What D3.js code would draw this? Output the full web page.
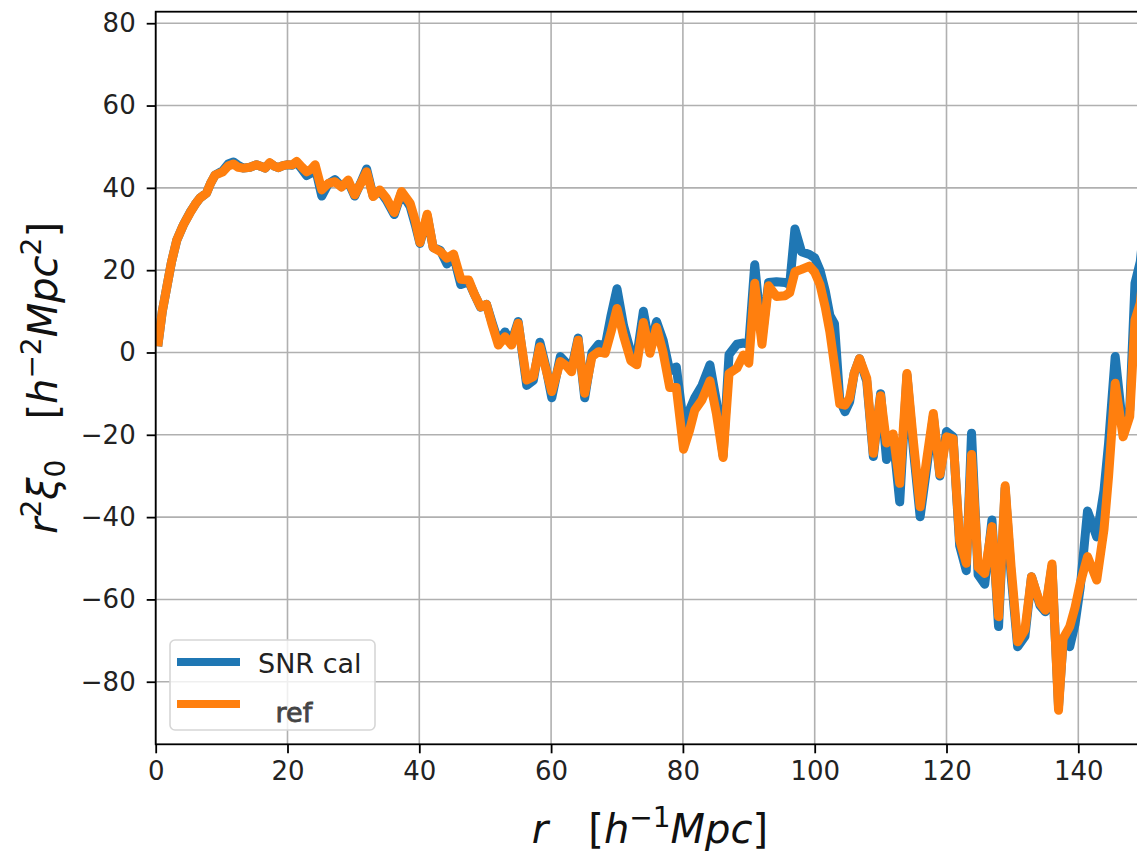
<!DOCTYPE html>
<html>
<head>
<meta charset="utf-8">
<script src="https://cdn.jsdelivr.net/npm/d3@7"></script>
<style>
  html, body { margin: 0; padding: 0; background: #fff; }
  svg { display: block; }
  text { font-family: "DejaVu Sans", sans-serif; }
</style>
</head>
<body>
<svg id="chart" width="1137" height="851"></svg>
<script>
// ---------- data ----------
const rValues = [0.4,1.0,1.7,2.4,3.2,4.2,5.2,6.0,6.7,7.7,8.3,9.0,10.2,11.0,11.8,12.5,13.3,14.3,15.3,16.0,16.6,17.3,18.0,18.6,19.3,19.9,20.7,21.4,22.2,22.9,23.6,24.2,25.2,26.2,27.2,28.2,29.2,30.2,31.1,32.0,33.0,34.0,35.0,36.2,37.3,38.6,39.4,40.1,41.2,42.1,43.2,44.2,45.2,46.3,47.5,48.4,49.3,50.2,51.0,52.0,53.0,54.0,55.0,56.3,57.3,58.3,59.2,60.1,61.4,62.3,63.1,64.1,65.1,66.2,67.2,68.2,69.1,70.0,71.0,72.1,73.0,74.0,75.0,76.0,77.0,78.0,79.0,80.1,81.0,81.8,82.9,84.1,85.1,86.1,87.0,88.2,89.2,90.0,90.9,92.0,93.0,94.2,95.5,96.2,97.0,98.0,99.2,100.0,100.8,101.6,102.3,103.0,103.8,104.6,105.3,106.0,106.8,107.9,108.9,110.0,110.9,111.9,112.9,114.0,115.0,116.0,117.0,118.0,119.0,120.0,121.0,122.0,123.0,123.8,124.8,125.8,126.9,127.9,128.9,129.8,130.8,131.9,132.9,134.2,135.0,136.0,137.0,137.7,138.7,139.5,140.3,141.4,142.8,143.9,144.6,145.6,146.8,147.8,148.6,149.4,150.2];

const snrCal = [2.6,10,16,22,27.3,31,34,36,37.5,38.7,41,43.1,44.2,45.8,46.3,45.5,44.8,45,45.6,45.2,44.8,46,45.3,44.9,45.4,45.6,45.5,46.2,44.5,43,43.6,45,38,41,42,40.3,41.5,38,41.2,44.6,38,39.3,37,33.5,38.8,35.5,31,26.5,33.2,25.5,24.8,21.5,23.5,16.5,17.2,14,11,11.7,7.5,2.5,5,2.5,7.5,-8,-6.8,2.5,-3.5,-11,-1,-2.5,-4,3.5,-11,0,2,1.5,9,15.5,6.5,0,-1,10,1.5,7.5,3,-4.5,-3.5,-17.5,-14,-11,-8,-3,-12,-25,-0.5,2,2.3,2,21.3,3.5,17,17.2,17,16.5,30,24.5,23.8,23,20,15,9,7,-11.5,-14.4,-12,-5,-1.5,-7,-25.3,-10,-26,-20.5,-36.3,-5.5,-24,-39.9,-28,-15.5,-30,-19.2,-20.5,-47,-53,-19.6,-54,-56.3,-40.7,-66.6,-33,-54,-71.5,-69,-54.5,-61.5,-63,-52,-86,-70,-71.5,-66,-57,-38.5,-44.8,-33.5,-22,-1,-19,-14,16.8,22,34];

const refValues = [2.6,10,16,22,27.3,31,33.9,36,37.5,38.7,41,43.1,43.9,45.3,45.8,45,44.8,45,45.6,45.2,44.8,46.1,45.3,44.9,45.4,45.6,45.6,46.4,45,43.9,44.5,45.6,39.5,41.1,41.5,40.2,41.9,38.3,41,43.9,37.9,39.5,37.5,34,39.1,36.3,32,26.7,33.6,25.5,24.5,22.9,23.9,17.8,17.6,14,11.1,11.7,7,1.8,3.8,1.8,7.1,-6.7,-5.9,1.4,-4,-9.5,-2.2,-3.2,-4.7,3,-9.9,-1,0.2,-0.2,5,10.7,4,-2,-3,7.3,-0.2,6.1,0,-8.5,-8.5,-23.5,-19,-14,-11.5,-6.9,-15,-25.5,-5.1,-3.8,-0.6,-2.6,16.8,2,16.2,13.6,13.8,14.5,19.6,20.2,21,19.5,16.5,11,5,-3,-12.5,-12.8,-11,-5,-1.5,-6.3,-24.5,-10.5,-22,-19.8,-31.8,-5.1,-22,-37.5,-26,-14.8,-29.6,-20.5,-21,-45.6,-51.2,-24.8,-52.2,-53.7,-42.3,-64.2,-32.4,-52,-70.3,-67.4,-54.5,-61,-62.6,-51.4,-86.9,-69.5,-66.6,-62,-56,-49.6,-55.3,-43,-30,-7.5,-20.5,-15.6,7.9,12,24];

const xTicks = [0, 20, 40, 60, 80, 100, 120, 140];
const yTicks = [-80, -60, -40, -20, 0, 20, 40, 60, 80];
const xDomain = [0, 150];
const yDomain = [-95.2, 82.8];
const seriesNames = ["SNR cal", " ref"];
const seriesColors = ["#1f77b4", "#ff7f0e"];

// ---------- layout ----------
const svg = d3.select("#chart");
const plot = { left: 155.7, right: 1144.2, top: 11.7, bottom: 744.3 };

const x = d3.scaleLinear().domain(xDomain).range([plot.left, plot.right]);
const y = d3.scaleLinear().domain(yDomain).range([plot.bottom, plot.top]);

svg.append("defs").append("clipPath").attr("id", "clip")
  .append("rect")
  .attr("x", plot.left).attr("y", plot.top)
  .attr("width", plot.right - plot.left).attr("height", plot.bottom - plot.top);

// grid
const grid = svg.append("g");
grid.selectAll("line.vx").data(xTicks).join("line")
  .attr("x1", d => x(d)).attr("x2", d => x(d))
  .attr("y1", plot.top).attr("y2", plot.bottom)
  .attr("stroke", "#b0b0b0").attr("stroke-width", 1.6);
grid.selectAll("line.hy").data(yTicks).join("line")
  .attr("x1", plot.left).attr("x2", plot.right)
  .attr("y1", d => y(d)).attr("y2", d => y(d))
  .attr("stroke", "#b0b0b0").attr("stroke-width", 1.6);

// lines
const series = [snrCal, refValues];
const line = d3.line().x((d, i) => x(rValues[i])).y(d => y(d));
const lines = svg.append("g").attr("clip-path", "url(#clip)");
series.forEach((s, k) => {
  lines.append("path").datum(s)
    .attr("d", line)
    .attr("fill", "none")
    .attr("stroke", seriesColors[k])
    .attr("stroke-width", 9)
    .attr("stroke-linejoin", "round")
    .attr("stroke-linecap", "square");
});

// spines
svg.append("rect")
  .attr("x", plot.left).attr("y", plot.top)
  .attr("width", plot.right - plot.left).attr("height", plot.bottom - plot.top)
  .attr("fill", "none").attr("stroke", "#000").attr("stroke-width", 1.8);

// axes
const fmt = d => (d < 0 ? "\u2212" + Math.abs(d) : String(d));
const xAxis = svg.append("g").attr("transform", `translate(0,${plot.bottom})`)
  .call(d3.axisBottom(x).tickValues(xTicks).tickFormat(fmt).tickSize(9).tickPadding(8));
const yAxis = svg.append("g").attr("transform", `translate(${plot.left},0)`)
  .call(d3.axisLeft(y).tickValues(yTicks).tickFormat(fmt).tickSize(9).tickPadding(11));
[xAxis, yAxis].forEach(g => {
  g.select(".domain").remove();
  g.selectAll(".tick line").attr("stroke", "#000").attr("stroke-width", 1.8);
  g.selectAll(".tick text").attr("fill", "#222")
    .style("font-family", "'DejaVu Sans', sans-serif").style("font-size", "26px");
});

// axis labels (mathtext-like)
const xl = svg.append("text")
  .attr("x", (plot.left + plot.right) / 2).attr("y", 843)
  .attr("text-anchor", "middle").attr("fill", "#111")
  .style("font-size", "40px");
xl.append("tspan").style("font-style", "italic").text("r");
xl.append("tspan").attr("dx", 40).text("[");
xl.append("tspan").style("font-style", "italic").text("h");
xl.append("tspan").attr("dy", -16).style("font-size", "28px").text("\u22121");
xl.append("tspan").attr("dy", 16).style("font-style", "italic").text("Mpc");
xl.append("tspan").text("]");

const yl = svg.append("text")
  .attr("transform", `translate(57,${(plot.top + plot.bottom) / 2}) rotate(-90)`)
  .attr("text-anchor", "middle").attr("fill", "#111")
  .style("font-size", "40px");
yl.append("tspan").style("font-style", "italic").text("r");
yl.append("tspan").attr("dy", -16).style("font-size", "28px").text("2");
yl.append("tspan").attr("dy", 16).style("font-style", "italic").text("\u03be");
yl.append("tspan").attr("dy", 8).style("font-size", "28px").text("0");
yl.append("tspan").attr("dy", -8).attr("dx", 40).text("[");
yl.append("tspan").style("font-style", "italic").text("h");
yl.append("tspan").attr("dy", -16).style("font-size", "28px").text("\u22122");
yl.append("tspan").attr("dy", 16).style("font-style", "italic").text("Mpc");
yl.append("tspan").attr("dy", -16).style("font-size", "28px").text("2");
yl.append("tspan").attr("dy", 16).text("]");

// legend
const lg = svg.append("g");
lg.append("rect")
  .attr("x", 170).attr("y", 640).attr("width", 205).attr("height", 90)
  .attr("rx", 5).attr("fill", "#fff").attr("fill-opacity", 0.8)
  .attr("stroke", "#d6d6d6").attr("stroke-width", 1.6);
const legendRows = [
  { y: 662, ty: 673, tx: 258, fill: "#222", stroke: 0 },
  { y: 704, ty: 722, tx: 267, fill: "#444", stroke: 0.8 }
];
seriesNames.forEach((name, k) => {
  const row = legendRows[k];
  lg.append("line")
    .attr("x1", 177).attr("x2", 240).attr("y1", row.y).attr("y2", row.y)
    .attr("stroke", seriesColors[k]).attr("stroke-width", 8);
  lg.append("text")
    .attr("x", row.tx).attr("y", row.ty)
    .attr("fill", row.fill)
    .attr("stroke", row.fill).attr("stroke-width", row.stroke)
    .style("font-size", "27px")
    .style("white-space", "pre")
    .text(name);
});
</script>
</body>
</html>
